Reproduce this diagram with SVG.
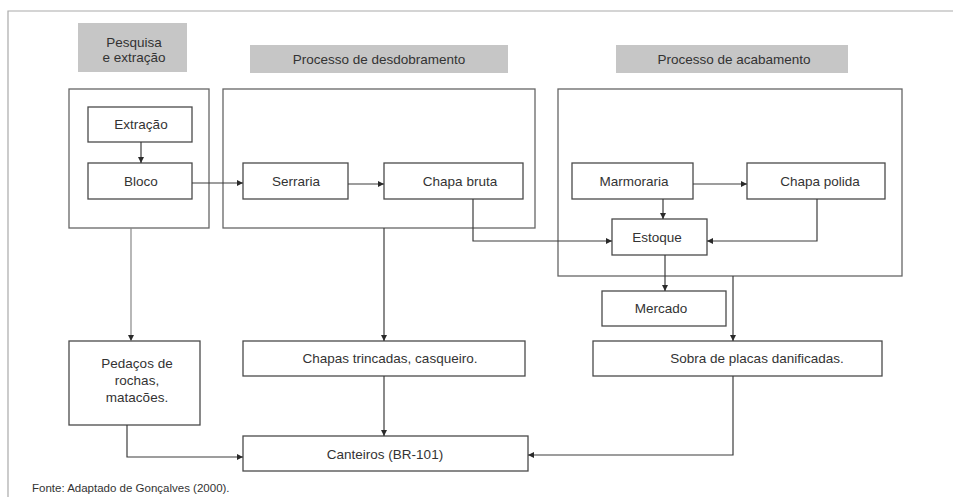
<svg xmlns="http://www.w3.org/2000/svg" width="953" height="497" viewBox="0 0 953 497">
<defs>
<style>
text{font-family:"Liberation Sans",Arial,sans-serif;font-size:13.5px;fill:#333;text-anchor:middle}
.hdr{fill:#c6c6c6;stroke:none}
.cont{fill:none;stroke:#666;stroke-width:1.3}
.box{fill:#fff;stroke:#4a4a4a;stroke-width:1.3}
.ln{fill:none;stroke:#3c3c3c;stroke-width:1.2;marker-end:url(#ah)}
.ln2{fill:none;stroke:#3c3c3c;stroke-width:1.2}
.foot{font-size:11.5px;text-anchor:start}
</style>
<marker id="ah" viewBox="0 0 10 10" refX="10" refY="5" markerWidth="6" markerHeight="6" markerUnits="userSpaceOnUse" orient="auto">
<path d="M0,0 L10,5 L0,10 z" fill="#2a2a2a"/>
</marker>
</defs>
<rect width="953" height="497" fill="#fff"/>
<path d="M8,497 V11 H953" fill="none" stroke="#aaa" stroke-width="1.2"/>

<g id="hdr-pesquisa">
<rect class="hdr" x="78" y="23" width="109" height="49"/>
<text x="134" y="47">Pesquisa</text>
<text x="134" y="62">e extração</text>
</g>
<g id="hdr-desdobramento">
<rect class="hdr" x="250" y="45" width="258" height="28"/>
<text x="379" y="64">Processo de desdobramento</text>
</g>
<g id="hdr-acabamento">
<rect class="hdr" x="616" y="45" width="232" height="28"/>
<text x="734" y="64">Processo de acabamento</text>
</g>

<g id="cont-pesquisa"><rect class="cont" x="69" y="89" width="140" height="139"/></g>
<g id="cont-desdobramento"><rect class="cont" x="223" y="89" width="312" height="139"/></g>
<g id="cont-acabamento"><rect class="cont" x="558" y="89" width="344" height="187"/></g>

<g id="extracao"><rect class="box" x="88" y="107" width="104" height="35"/><text x="141" y="129">Extração</text></g>
<g id="bloco"><rect class="box" x="88" y="163" width="104" height="36"/><text x="141" y="186">Bloco</text></g>
<g id="serraria"><rect class="box" x="243" y="163" width="105" height="36"/><text x="296" y="186">Serraria</text></g>
<g id="chapa-bruta"><rect class="box" x="384" y="163" width="139" height="36"/><text x="460" y="186">Chapa bruta</text></g>
<g id="marmoraria"><rect class="box" x="572" y="163" width="121" height="36"/><text x="634" y="186">Marmoraria</text></g>
<g id="chapa-polida"><rect class="box" x="747" y="163" width="138" height="36"/><text x="820" y="186">Chapa polida</text></g>
<g id="estoque"><rect class="box" x="612" y="219" width="95" height="36"/><text x="657" y="242">Estoque</text></g>
<g id="mercado"><rect class="box" x="602" y="291" width="124" height="35"/><text x="661" y="313">Mercado</text></g>
<g id="pedacos"><rect class="box" x="69" y="341" width="131" height="84"/>
<text x="137" y="368">Pedaços de</text><text x="137" y="385">rochas,</text><text x="137" y="402">matacões.</text></g>
<g id="chapas-trincadas"><rect class="box" x="243" y="341" width="282" height="35"/><text x="390" y="363">Chapas trincadas, casqueiro.</text></g>
<g id="sobra"><rect class="box" x="593" y="341" width="289" height="35"/><text x="757" y="363">Sobra de placas danificadas.</text></g>
<g id="canteiros"><rect class="box" x="243" y="436" width="285" height="35"/><text x="385" y="459">Canteiros (BR-101)</text></g>

<g id="connectors">
<path class="ln" d="M141,142 V163"/>
<path class="ln" d="M192,183 H243"/>
<path class="ln" d="M348,184 H384"/>
<path class="ln" d="M473,199 V241 H612"/>
<path class="ln" d="M693,184 H747"/>
<path class="ln" d="M663,199 V219"/>
<path class="ln" d="M817,199 V241 H707"/>
<path class="ln" d="M665,255 V291"/>
<path class="ln" d="M733,276 V341"/>
<path class="ln" d="M131,228 V341" style="stroke:#888"/>
<path class="ln" d="M384,228 V341"/>
<path class="ln" d="M384,376 V436"/>
<path class="ln" d="M127,425 V457 H243"/>
<path class="ln" d="M733,376 V455 H528"/>
</g>

<text class="foot" x="32" y="492">Fonte: Adaptado de Gonçalves (2000).</text>
</svg>
